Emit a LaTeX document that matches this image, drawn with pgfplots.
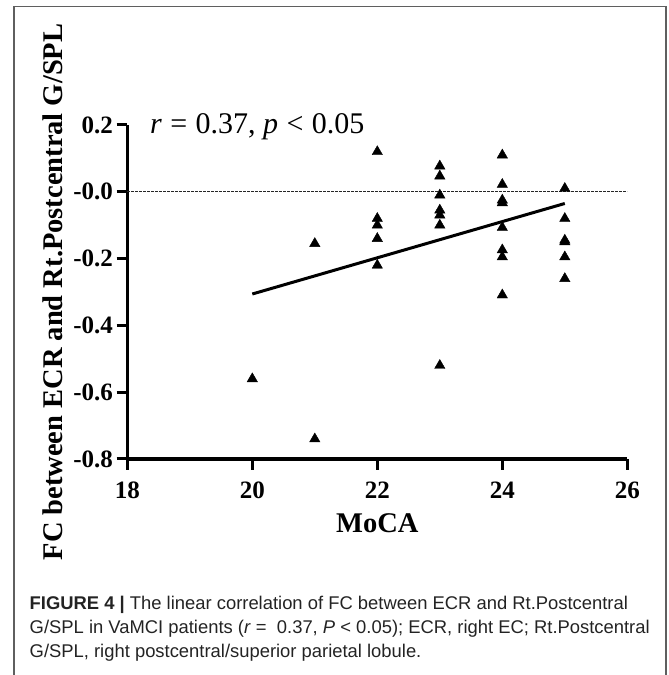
\documentclass[border=0pt]{standalone}
\usepackage{fontspec}
\setmainfont{Liberation Serif}
\newfontfamily\capfont{Liberation Sans}
\usepackage{pgfplots}
\pgfplotsset{compat=1.18}
\definecolor{framegray}{RGB}{95,95,95}
\definecolor{captext}{RGB}{35,35,35}
\newcommand\tl{\fontsize{25}{25}\selectfont\bfseries}

\begin{document}
\begin{tikzpicture}
\useasboundingbox (0,0) rectangle (669pt,675pt);
% frame around figure and caption
\draw[framegray, line width=1.5pt] (14pt,0pt) -- (14pt,668.5pt) -- (666pt,668.5pt) -- (666pt,0pt);

\begin{axis}[
  at={(127.3pt,216pt)}, anchor=south west,
  scale only axis, width=500pt, height=334pt,
  xmin=18, xmax=26, ymin=-0.8, ymax=0.2,
  axis x line*=bottom, axis y line*=left,
  axis line style={-, line width=3.2pt},
  xtick={18,20,22,24,26},
  xticklabels={{\tl 18},{\tl 20},{\tl 22},{\tl 24},{\tl 26}},
  ytick={-0.8,-0.6,-0.4,-0.2,0,0.2},
  yticklabels={{\tl -0.8},{\tl -0.6},{\tl -0.4},{\tl -0.2},{\tl -0.0},{\tl 0.2}},
  tick align=outside, major tick length=10.7pt,
  tick style={line width=3pt, black},
  tick label style={font=\tl},
  yticklabel style={inner sep=3.5pt},
  xticklabel style={inner sep=6pt, yshift=-6pt},
  xlabel={MoCA},
  ylabel={FC between ECR and Rt.Postcentral G/SPL},
  label style={font=\fontsize{28.5}{30}\selectfont\bfseries},
  xlabel style={at={(axis description cs:0.5,-0.2186)}, anchor=base},
  ylabel style={at={(axis description cs:-0.1306,0.5)}, anchor=base},
  clip=false,
]
% zero reference line
\addplot[black!85, line width=1.1pt, dash pattern=on 2.2pt off 1.8pt] coordinates {(18,0) (26,0)};
% subjects
\addplot[only marks, mark=triangle*, mark size=6pt, black] table {
x y
20 -0.56
21 -0.155
21 -0.74
22 0.12
22 -0.08
22 -0.10
22 -0.14
22 -0.22
23 0.077
23 0.047
23 -0.01
23 -0.055
23 -0.07
23 -0.10
23 -0.52
24 0.11
24 0.022
24 -0.025
24 -0.033
24 -0.107
24 -0.174
24 -0.195
24 -0.309
25 0.01
25 -0.08
25 -0.145
25 -0.15
25 -0.195
25 -0.26
};
% fitted line
\addplot[black, line width=3pt] coordinates {(20,-0.306) (25,-0.035)};
\node[anchor=base west, inner sep=0pt, font=\fontsize{30}{32}\selectfont] at (rel axis cs:0.0454,0.976)
  {\textit{r}\hspace{0.28em}=\hspace{0.28em}0.37, \textit{p}\hspace{0.28em}<\hspace{0.28em}0.05};
\end{axis}

% caption
\begin{scope}[every node/.style={anchor=base west, inner sep=0pt, text=captext, font=\capfont\fontsize{18.4}{20}\selectfont}]
\node at (29.5pt,65pt) {\textbf{FIGURE 4} \textbf{|} The linear correlation of FC between ECR and Rt.Postcentral};
\node at (29.5pt,41.5pt) {G/SPL in VaMCI patients (\textit{r} =\ \ 0.37, \textit{P} < 0.05); ECR, right EC; Rt.Postcentral};
\node at (29.5pt,17pt) {G/SPL, right postcentral/superior parietal lobule.};
\end{scope}
\end{tikzpicture}
\end{document}
